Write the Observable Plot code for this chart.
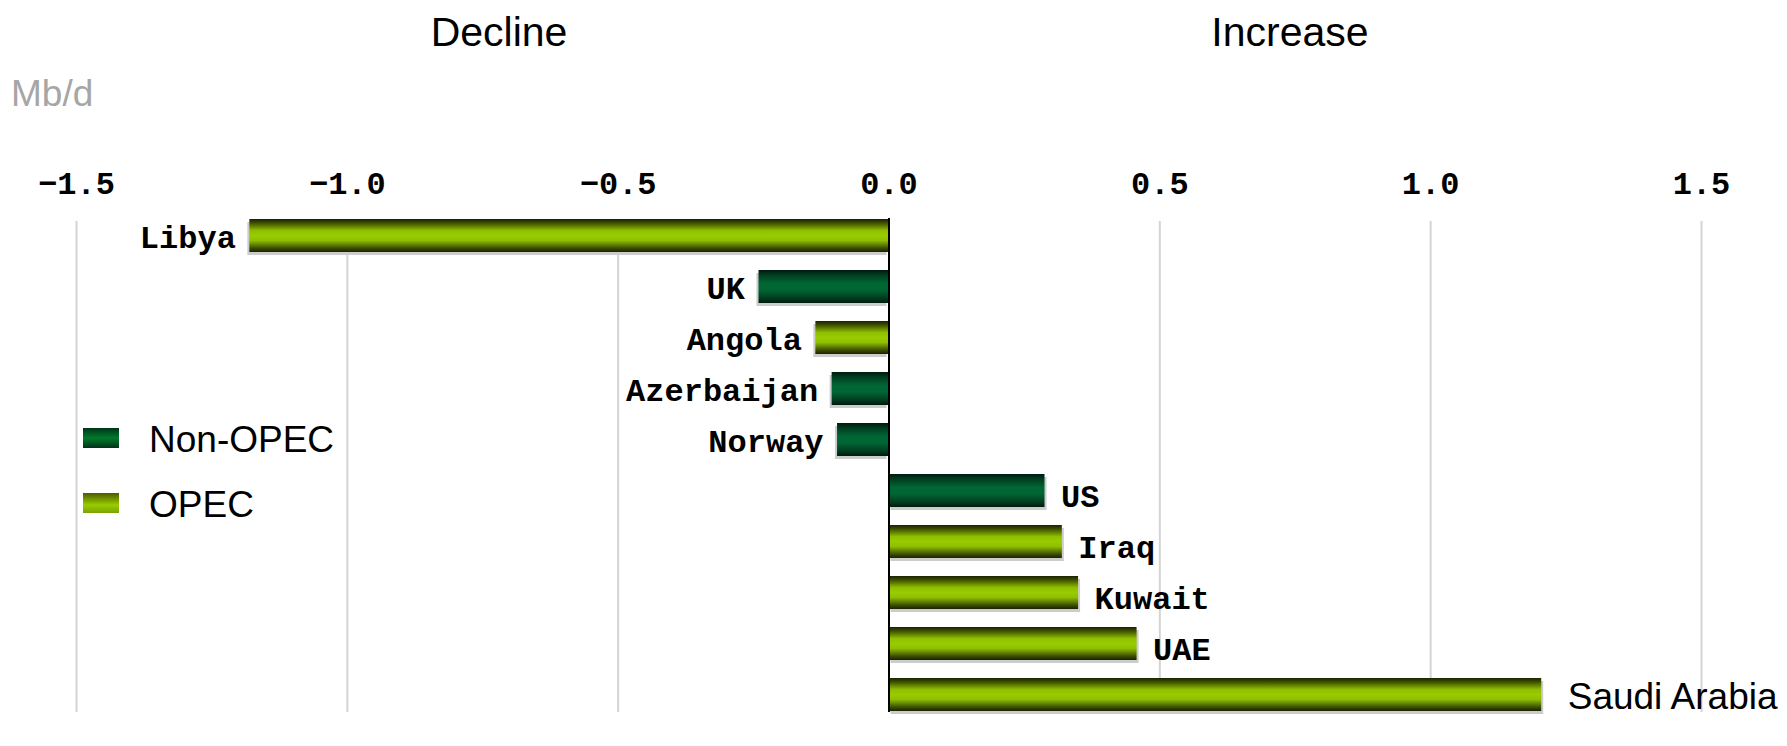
<!DOCTYPE html>
<html>
<head>
<meta charset="utf-8">
<script src="https://cdn.jsdelivr.net/npm/d3@7"></script>
<script src="https://cdn.jsdelivr.net/npm/@observablehq/plot@0.6"></script>
<style>
  html, body { margin: 0; padding: 0; background: #fff; }
  #wrap { position: relative; width: 1787px; height: 746px; overflow: hidden; font-family: "Liberation Sans", Arial, sans-serif; }
  #wrap svg { position: absolute; left: 0; top: 0; }
  .lbl { position: absolute; white-space: nowrap; line-height: 1; transform: translate(-50%, -50%); font-size: 41px; color: #000; }
  .unit { position: absolute; left: 11px; top: 93px; transform: translateY(-50%); font-size: 37px; color: #a6a6a6; line-height: 1; }
  .leg { position: absolute; left: 83px; width: 36px; height: 20px; }
  .legt { position: absolute; left: 149px; font-size: 37px; line-height: 1; transform: translateY(-50%); color: #000; }
</style>
</head>
<body>
<div id="wrap">
  <div class="lbl" style="left:499px; top:32px;">Decline</div>
  <div class="lbl" style="left:1290px; top:32px;">Increase</div>
  <div class="unit">Mb/d</div>
  <div class="leg" style="top:428px; background: linear-gradient(#00331a, #007a2a 50%, #00331a);"></div>
  <div class="legt" style="top:439px;">Non-OPEC</div>
  <div class="leg" style="top:493px; background: linear-gradient(#4a5c00, #99cc00 60%, #7aa300);"></div>
  <div class="legt" style="top:504px;">OPEC</div>
</div>
<script>
const countries = ["Libya", "UK", "Angola", "Azerbaijan", "Norway", "US", "Iraq", "Kuwait", "UAE", "Saudi Arabia"];
const changes = [-1.18, -0.24, -0.135, -0.105, -0.095, 0.288, 0.32, 0.35, 0.458, 1.205];
const groups = ["OPEC", "Non-OPEC", "OPEC", "Non-OPEC", "Non-OPEC", "Non-OPEC", "OPEC", "OPEC", "OPEC", "OPEC"];
const xTicks = [-1.5, -1.0, -0.5, 0.0, 0.5, 1.0, 1.5];

const data = countries.map((c, i) => ({c, v: changes[i], g: groups[i]}));
const neg = data.filter(d => d.v < 0);
const pos = data.filter(d => d.v > 0);
const monoFont = "'Liberation Mono', 'DejaVu Sans Mono', monospace";
const inset = 9;

const svg = Plot.plot({
  width: 1787,
  height: 746,
  marginLeft: 76,
  marginRight: 86,
  marginTop: 209,
  marginBottom: 25,
  style: {background: "transparent", fontFamily: monoFont, fontSize: "32px", fontWeight: "bold", color: "#000"},
  x: {domain: [-1.5, 1.5], axis: "top", ticks: xTicks, tickSize: 0, tickPadding: 16, label: null,
      tickFormat: d => d.toFixed(1).replace("-", "\u2212")},
  y: {domain: countries, padding: 0, axis: null},
  marks: [
    Plot.ruleX(xTicks.filter(d => d !== 0), {stroke: "#d4d4d4", strokeWidth: 2, insetTop: 12, insetBottom: 9}),
    Plot.barX(neg, {x: "v", y: "c", fill: "#cccccc", insetTop: inset, insetBottom: inset, dy: 3, dx: -2}),
    Plot.barX(pos, {x: "v", y: "c", fill: "#cccccc", insetTop: inset, insetBottom: inset, dy: 3, dx: 2}),
    Plot.barX(data.filter(d => d.g === "OPEC"), {x: "v", y: "c", fill: "url(#gOpec)", insetTop: inset, insetBottom: inset}),
    Plot.barX(data.filter(d => d.g === "Non-OPEC"), {x: "v", y: "c", fill: "url(#gNon)", insetTop: inset, insetBottom: inset}),
    Plot.ruleX([0], {stroke: "#000", strokeWidth: 2, insetTop: inset, insetBottom: inset}),
    Plot.text(neg, {x: "v", y: "c", text: "c", textAnchor: "end", dx: -14, dy: 2, fontFamily: monoFont, fontSize: 32, fontWeight: "bold", fill: "#000"}),
    Plot.text(pos.filter(d => d.c !== "Saudi Arabia"), {x: "v", y: "c", text: "c", textAnchor: "start", dx: 16, dy: 6, fontFamily: monoFont, fontSize: 32, fontWeight: "bold", fill: "#000"}),
    Plot.text(pos.filter(d => d.c === "Saudi Arabia"), {x: "v", y: "c", text: "c", textAnchor: "start", dx: 26, dy: 2, fontFamily: "'Liberation Sans', Arial, sans-serif", fontSize: 37, fontWeight: "normal", fill: "#000"})
  ]
});

const defs = d3.select(svg).insert("defs", ":first-child");
const g1 = defs.append("linearGradient").attr("id", "gOpec").attr("x1", 0).attr("y1", 0).attr("x2", 0).attr("y2", 1);
[[0, "#1a2200"], [0.12, "#3d5000"], [0.35, "#8fbf00"], [0.5, "#99cc00"], [0.65, "#8fbf00"], [0.88, "#3d5000"], [1, "#1a2200"]]
  .forEach(([o, c]) => g1.append("stop").attr("offset", o).attr("stop-color", c));
const g2 = defs.append("linearGradient").attr("id", "gNon").attr("x1", 0).attr("y1", 0).attr("x2", 0).attr("y2", 1);
[[0, "#001a0d"], [0.15, "#003d1f"], [0.4, "#006633"], [0.6, "#006633"], [0.85, "#003d1f"], [1, "#001a0d"]]
  .forEach(([o, c]) => g2.append("stop").attr("offset", o).attr("stop-color", c));

document.getElementById("wrap").prepend(svg);
</script>
</body>
</html>
